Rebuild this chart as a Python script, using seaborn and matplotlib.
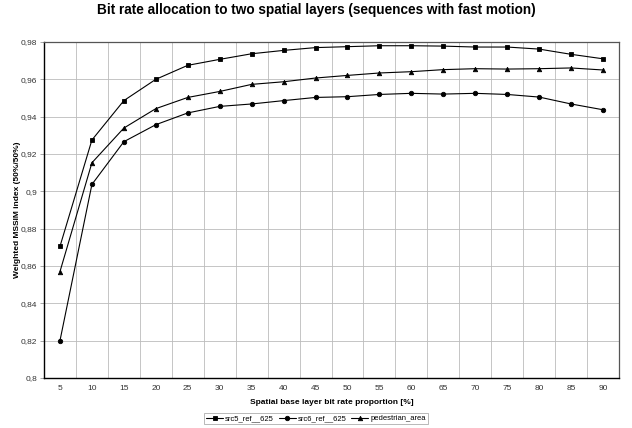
"""Bit rate allocation to two spatial layers - fast motion sequences"""
import numpy as np
import pandas as pd
import matplotlib
matplotlib.use("Agg")
import matplotlib.pyplot as plt
import matplotlib.ticker as mticker
import seaborn as sns

# data
proportions = [5, 10, 15, 20, 25, 30, 35, 40, 45, 50, 55, 60, 65, 70, 75, 80, 85, 90]
src5_ref_625 = [0.8705, 0.9275, 0.9486, 0.9600, 0.9675, 0.9707, 0.9737, 0.9755, 0.9770,
                0.9775, 0.9780, 0.9780, 0.9778, 0.9773, 0.9773, 0.9762, 0.9734, 0.9710]
src6_ref_625 = [0.8200, 0.9037, 0.9266, 0.9357, 0.9420, 0.9455, 0.9468, 0.9486, 0.9503,
                0.9507, 0.9519, 0.9525, 0.9521, 0.9525, 0.9519, 0.9505, 0.9468, 0.9437]
pedestrian_area = [0.8570, 0.9153, 0.9339, 0.9443, 0.9503, 0.9535, 0.9573, 0.9587, 0.9607,
                   0.9621, 0.9634, 0.9641, 0.9652, 0.9657, 0.9655, 0.9657, 0.9661, 0.9650]

series_names = ["src5_ref__625", "src6_ref__625", "pedestrian_area"]
series_values = [src5_ref_625, src6_ref_625, pedestrian_area]

df = pd.concat(
    [pd.DataFrame({"proportion": proportions, "mssim": vals, "sequence": name})
     for name, vals in zip(series_names, series_values)],
    ignore_index=True,
)

sns.set_theme(style="white")
plt.rcParams["font.family"] = ["Liberation Sans", "DejaVu Sans"]
plt.rcParams["text.color"] = "black"
plt.rcParams["axes.labelcolor"] = "black"

fig = plt.figure(figsize=(6.32, 4.28), dpi=100)
ax = fig.add_axes([44 / 632, 1 - 378 / 428, 575 / 632, 336 / 428])

sns.pointplot(
    data=df, x="proportion", y="mssim", hue="sequence", hue_order=series_names,
    palette=["black"] * 3, markers=["s", "o", "^"], linestyles="-",
    errorbar=None, markersize=3.2, linewidth=0.8, ax=ax,
)

# Excel style category axis: gridlines between categories
n = len(proportions)
ax.set_xlim(-0.5, n - 0.5)
ax.set_ylim(0.8, 0.98)
ax.yaxis.set_major_locator(mticker.MultipleLocator(0.02))
ax.yaxis.set_major_formatter(
    mticker.FuncFormatter(lambda v, _: f"{v:.2f}".rstrip("0").replace(".", ","))
)
ax.xaxis.set_minor_locator(mticker.FixedLocator(np.arange(-0.5, n, 1.0)))
ax.grid(True, which="minor", axis="x", color="#bcbcbc", linewidth=0.6)
ax.grid(True, which="major", axis="y", color="#bcbcbc", linewidth=0.6)
ax.grid(False, which="major", axis="x")
ax.set_axisbelow(True)

ax.tick_params(axis="x", which="major", length=0, labelsize=6, pad=5, colors="#333333")
ax.tick_params(axis="x", which="minor", length=3, width=0.6, color="#999999", direction="out")
ax.tick_params(axis="y", which="major", length=3, width=0.6, labelsize=6, color="#999999",
               direction="out", pad=2, labelcolor="#333333", left=True)

for side in ["left", "bottom"]:
    ax.spines[side].set_color("black")
    ax.spines[side].set_linewidth(1.0)
for side in ["top", "right"]:
    ax.spines[side].set_color("#555555")
    ax.spines[side].set_linewidth(0.9)

ax.set_xlabel("Spatial base layer bit rate proportion [%]", fontsize=6, fontweight="bold")
ax.set_ylabel("Weighted MSSIM index (50%/50%)", fontsize=6, fontweight="bold")
ax.xaxis.set_label_coords(0.5, (378 - 399) / 336)
ax.yaxis.set_label_coords((21 - 44) / 575, 0.5)

fig.suptitle("Bit rate allocation to two spatial layers (sequences with fast motion)",
             fontsize=9.8, fontweight="bold", x=0.5, y=1 - 10 / 428, va="center",
             color="black")

handles, labels = ax.get_legend_handles_labels()
ax.get_legend().remove()
leg = fig.legend(handles, labels, loc="center", bbox_to_anchor=(0.5, 1 - 418.5 / 428),
                 ncol=3, fontsize=5.5, frameon=True, fancybox=False, edgecolor="#999999",
                 handlelength=2.2, handletextpad=0.3, columnspacing=0.6, borderpad=0.3)
leg.get_frame().set_linewidth(0.6)

fig.savefig("out.png", dpi=100)
